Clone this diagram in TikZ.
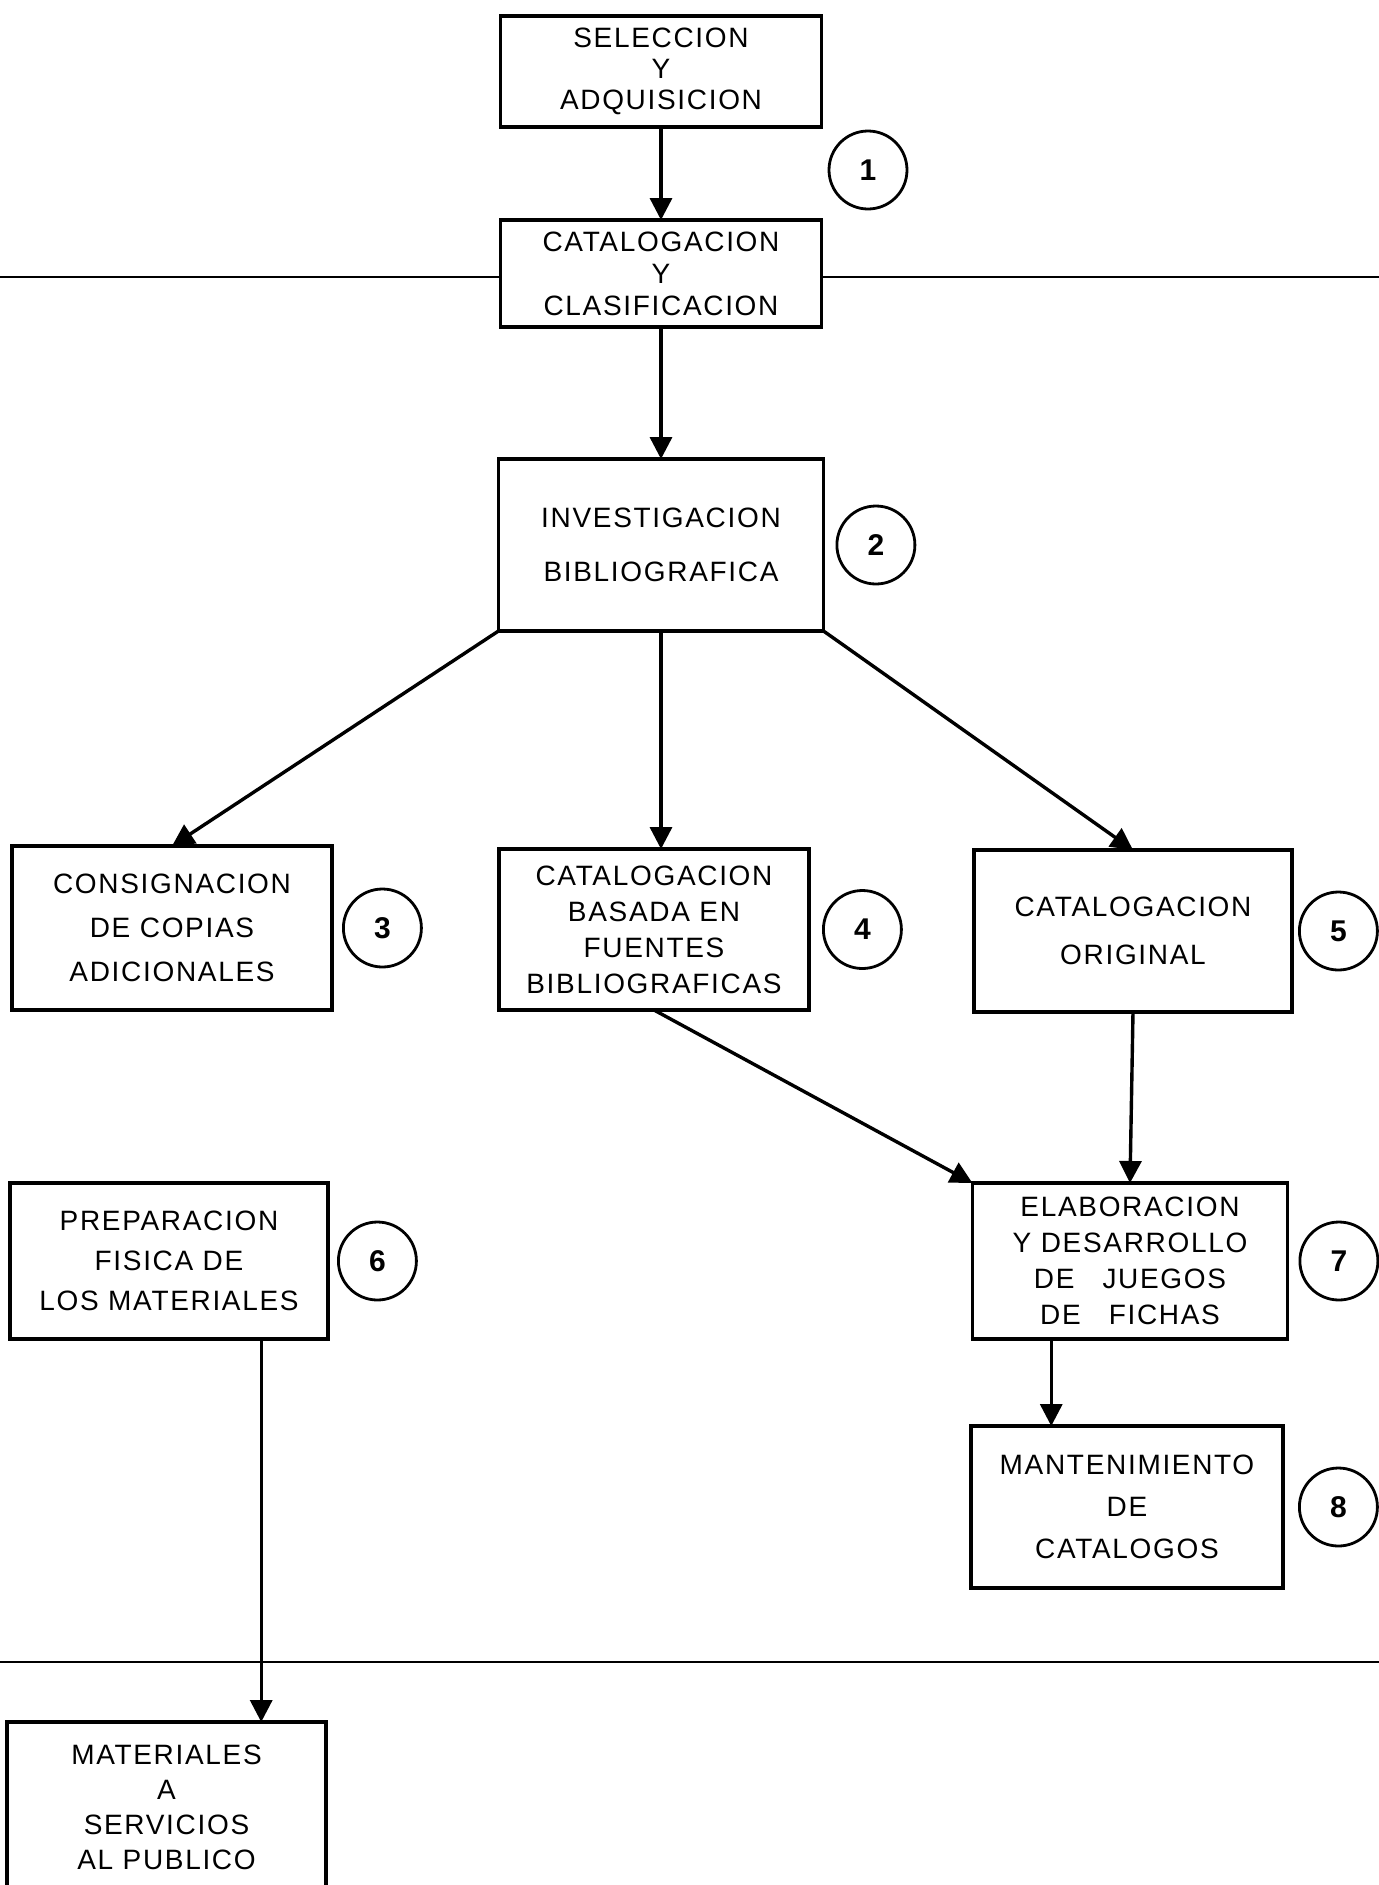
\documentclass[tikz,border=0pt]{standalone}
\usepackage{fontspec}
\usetikzlibrary{positioning,arrows.meta,calc}
\newfontfamily\lettering[LetterSpace=6]{Liberation Sans}
\newfontfamily\numfont{Liberation Sans}
\tikzset{
  box/.style={draw,line width=1.8pt,inner sep=0pt,outer sep=0pt,align=center},
  lead/.style={font=\lettering\fontsize{14}{#1}\selectfont},
  num/.style={draw,circle,line width=1.4pt,minimum size=39pt,inner sep=0pt,font=\numfont\bfseries\fontsize{15}{15}\selectfont},
  link/.style={line width=1.7pt,-{Triangle[length=11pt,width=11pt]}},
  divider/.style={line width=1.1pt}
}
\begin{document}
\begin{tikzpicture}[x=0.5pt,y=-0.5pt]
\clip (0,0) rectangle (1379,1885);
\fill[white] (0,0) rectangle (1379,1885);

\draw (661,71.5) node[box,lead=15.5pt,minimum width=160.5pt,minimum height=55.5pt] (sel) {SELECCION\\Y\\ADQUISICION};
\draw (661,273.5) node[box,lead=16pt,minimum width=160.5pt,minimum height=53.5pt] (cat) {CATALOGACION\\Y\\CLASIFICACION};
\draw (661,545) node[box,lead=27pt,minimum width=162.5pt,minimum height=86pt] (inv) {INVESTIGACION\\BIBLIOGRAFICA};
\draw (172,928) node[box,lead=22pt,minimum width=160pt,minimum height=82pt] (cons) {CONSIGNACION\\DE COPIAS\\ADICIONALES};
\draw (654,929.5) node[box,lead=18pt,minimum width=155pt,minimum height=80.5pt] (bas) {CATALOGACION\\BASADA EN\\FUENTES\\BIBLIOGRAFICAS};
\draw (1133,931) node[box,lead=24pt,minimum width=159pt,minimum height=81pt] (orig) {CATALOGACION\\ORIGINAL};
\draw (169,1261) node[box,lead=20pt,minimum width=159pt,minimum height=78pt] (prep) {PREPARACION\\FISICA DE\\LOS MATERIALES};
\draw (1130,1261) node[box,lead=18pt,minimum width=157.5pt,minimum height=78pt] (elab) {ELABORACION\\Y DESARROLLO\\DE\quad JUEGOS\\DE\quad FICHAS};
\draw (1127,1507) node[box,lead=21pt,minimum width=156pt,minimum height=81pt] (mant) {MANTENIMIENTO\\DE\\CATALOGOS};
\draw (166.5,1807) node[box,lead=17.5pt,minimum width=159.5pt,minimum height=85pt] (mat) {MATERIALES\\A\\SERVICIOS\\AL PUBLICO};

\draw (868,170) node[num] (n1) {1};
\draw (inv.east) node[num,right=6pt] (n2) {2};
\draw (cons.east) node[num,right=5pt] (n3) {3};
\draw (bas.east) node[num,right=6.5pt] (n4) {4};
\draw (orig.east) node[num,right=3pt] (n5) {5};
\draw (prep.east) node[num,right=4.5pt] (n6) {6};
\draw (elab.east) node[num,right=5.5pt] (n7) {7};
\draw (mant.east) node[num,right=7.5pt] (n8) {8};

\coordinate (topL) at (0,277);
\coordinate (topR) at (1379,277);
\coordinate (lowL) at (0,1662);
\coordinate (lowR) at (1379,1662);
\draw[divider] (topL) -- (topL -| cat.west);
\draw[divider] (topR -| cat.east) -- (topR);
\draw[divider] (lowL) -- (lowR);

\draw[link] (sel.south) -- (cat.north);
\draw[link] (cat.south) -- (inv.north);
\draw[link] (inv.south west) -- (cons.north);
\draw[link] (inv.south) -- (inv.south |- bas.north);
\draw[link] (inv.south east) -- (orig.north);
\draw[link] (bas.south) -- (elab.north west);
\draw[link] (orig.south) -- (elab.north);
\coordinate (elabout) at ($(elab.south west)!0.25!(elab.south east)$);
\draw[link] (elabout) -- (elabout |- mant.north);
\coordinate (prepout) at ($(prep.south west)!0.79!(prep.south east)$);
\draw[link] (prepout) -- (prepout |- mat.north);
\end{tikzpicture}
\end{document}
